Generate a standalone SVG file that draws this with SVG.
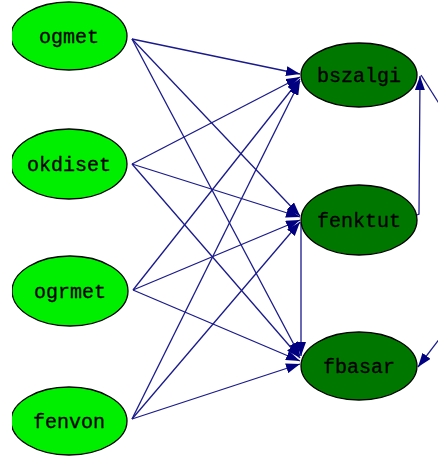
<svg xmlns="http://www.w3.org/2000/svg" width="438" height="461" viewBox="0 0 438 461">
  <style>
    .src ellipse { fill: #00ee00; stroke: #000; stroke-width: 1.3; }
    .dst ellipse { fill: #007800; stroke: #000; stroke-width: 1.3; }
    text { font-family: "Liberation Mono", "Courier New", monospace; font-size: 20px; fill: #000; stroke: #000; stroke-width: 0.3; text-anchor: middle; }
    #edges line, #edges path { stroke: #1a1a8c; stroke-width: 1.3; fill: none; marker-end: url(#arrow); }
    #edges .plain { marker-end: none; }
  </style>
  <defs>
    <marker id="arrow" viewBox="0 0 14 10" refX="14" refY="5" markerWidth="14" markerHeight="10" orient="auto" markerUnits="userSpaceOnUse">
      <path d="M0,0 L14,5 L0,10 z" fill="#000080"/>
    </marker>
    <clipPath id="view">
      <rect x="12" y="0" width="426" height="461"/>
    </clipPath>
  </defs>
  <rect width="438" height="461" fill="#fff"/>

  <g id="edges">
    <!-- ogmet -->
    <line x1="132" y1="39" x2="300" y2="74"/>
    <line x1="132" y1="39" x2="300" y2="216"/>
    <line x1="132" y1="39" x2="300" y2="356"/>
    <!-- okdiset -->
    <line x1="132" y1="164" x2="300" y2="77"/>
    <line x1="132" y1="164" x2="300" y2="217"/>
    <line x1="132" y1="164" x2="300" y2="358"/>
    <!-- ogrmet -->
    <line x1="133" y1="290" x2="300" y2="79"/>
    <line x1="133" y1="290" x2="300" y2="220"/>
    <line x1="133" y1="290" x2="300" y2="361"/>
    <!-- fenvon -->
    <line x1="132" y1="419" x2="300" y2="81"/>
    <line x1="132" y1="419" x2="300" y2="222"/>
    <line x1="132" y1="419" x2="300" y2="364"/>
    <!-- between right-hand nodes -->
    <path d="M301,222 L301,356"/>
    <path d="M417,215 L419,214 L420,76"/>
    <!-- edges running past the right border -->
    <line class="plain" x1="421" y1="75" x2="452" y2="124"/>
    <line x1="450" y1="325" x2="418" y2="367"/>
  </g>

  <g clip-path="url(#view)">
    <g id="ogmet" class="src">
      <ellipse cx="69" cy="36" rx="58" ry="34"/>
      <text x="69" y="43">ogmet</text>
    </g>
    <g id="okdiset" class="src">
      <ellipse cx="69" cy="164" rx="58" ry="35"/>
      <text x="69" y="171">okdiset</text>
    </g>
    <g id="ogrmet" class="src">
      <ellipse cx="70" cy="291" rx="58" ry="35"/>
      <text x="70" y="298">ogrmet</text>
    </g>
    <g id="fenvon" class="src">
      <ellipse cx="69" cy="421" rx="58" ry="34"/>
      <text x="69" y="428">fenvon</text>
    </g>
  </g>

  <g id="bszalgi" class="dst">
    <ellipse cx="359" cy="75" rx="58" ry="32"/>
    <text x="359" y="82">bszalgi</text>
  </g>
  <g id="fenktut" class="dst">
    <ellipse cx="359" cy="220" rx="58" ry="35"/>
    <text x="359" y="227">fenktut</text>
  </g>
  <g id="fbasar" class="dst">
    <ellipse cx="359" cy="366" rx="58" ry="34"/>
    <text x="359" y="373">fbasar</text>
  </g>
</svg>
